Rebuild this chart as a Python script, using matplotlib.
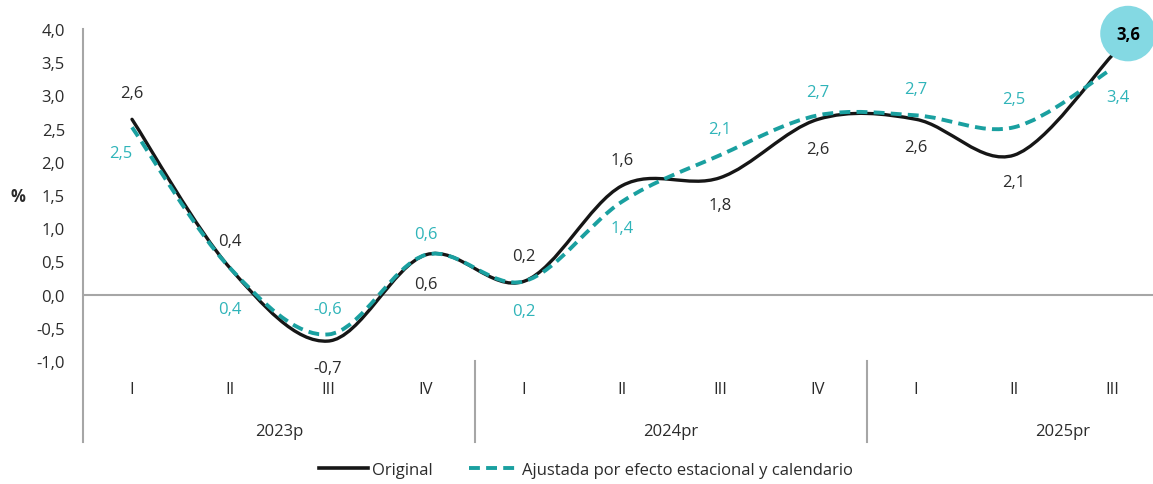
import numpy as np
import matplotlib
matplotlib.use('Agg')
from matplotlib import pyplot as plt
from matplotlib.path import Path
import matplotlib.patches as mpatches
import matplotlib.lines as mlines
from matplotlib import transforms

plt.rcParams['font.family'] = ['Open Sans', 'DejaVu Sans']

# data
quarters = ['I', 'II', 'III', 'IV', 'I', 'II', 'III', 'IV', 'I', 'II', 'III']
years = ['2023p', '2024pr', '2025pr']
original = [2.64, 0.4, -0.7, 0.6, 0.2, 1.64, 1.76, 2.64, 2.64, 2.1, 3.6]
ajustada = [2.52, 0.4, -0.6, 0.6, 0.2, 1.4, 2.1, 2.7, 2.7, 2.52, 3.4]

# label offsets (pixels) relative to each point
off_orig = [(0, 26), (0, 27), (0, -27), (0, -29), (0, 25), (0, 26),
            (0, -27), (0, -30), (0, -28), (0, -27), (16, 22)]
off_aj = [(-11, -26), (0, -41), (0, 25), (0, 21), (0, -30), (0, -26),
          (0, 26), (0, 23), (0, 26), (0, 28), (6, -28)]

BLACK = '#161616'
TEAL = '#1aa0a0'
TEAL_TXT = '#2fb4b9'
GREY = '#a6a6a6'
TXT = '#2b2b2b'
FS = 12


def smooth_path(xs, ys):
    # bezier path through the points (excel-style smoothed line)
    pts = np.column_stack([xs, ys]).astype(float)
    n = len(pts)
    verts = [pts[0]]
    codes = [Path.MOVETO]
    for i in range(n - 1):
        p0 = pts[max(i - 1, 0)]
        p1 = pts[i]
        p2 = pts[i + 1]
        p3 = pts[min(i + 2, n - 1)]
        c1 = p1 + (p2 - p0) / 6.0
        c2 = p2 - (p3 - p1) / 6.0
        verts += [c1, c2, p2]
        codes += [Path.CURVE4] * 3
    return Path(verts, codes)


W, H = 1153, 485
fig = plt.figure(figsize=(W / 100, H / 100), dpi=100)
ax = fig.add_axes([83 / W, 1 - 362 / H, (W - 83) / W, (362 - 30) / H])

x = np.arange(len(quarters))
ax.set_xlim(-0.5, -0.5 + (W - 83) / 98.0)
ax.set_ylim(-1.0, 4.0)

for s in ['top', 'right', 'bottom', 'left']:
    ax.spines[s].set_visible(False)

# zero line and left axis (extended down through the category area)
ax.axhline(0, color=GREY, lw=1.5, zorder=1)
ax.plot([0, 0], [1, -0.245], transform=ax.transAxes, color=GREY, lw=1.5,
        clip_on=False, zorder=1)

# series
ax.add_patch(mpatches.PathPatch(smooth_path(x, original), fill=False,
                                edgecolor=BLACK, lw=2.4, zorder=3,
                                capstyle='round'))
ax.add_patch(mpatches.PathPatch(smooth_path(x, ajustada), fill=False,
                                edgecolor=TEAL, lw=2.8, zorder=4,
                                linestyle=(0, (2.8, 1.6))))

# y axis
ax.set_yticks(np.arange(-1.0, 4.01, 0.5))
ax.yaxis.set_major_formatter(matplotlib.ticker.FuncFormatter(
    lambda v, p: ('%.1f' % v).replace('.', ',')))
ax.tick_params(axis='y', length=0, pad=13, labelsize=FS, labelcolor=TXT)
ax.set_xticks([])
fig.text(18 / W, 1 - 197 / H, '%', ha='center', va='center', fontsize=FS,
         fontweight='bold', color=TXT)

# category axis: quarters, years and separators
trans = transforms.blended_transform_factory(ax.transData, ax.transAxes)
for i, q in enumerate(quarters):
    ax.text(i, -0.084, q, transform=trans, ha='center', va='center',
            fontsize=FS, color=TXT)
for k, yr in enumerate(years):
    ax.text(4 * k + 1.5, -0.21, yr, transform=trans, ha='center',
            va='center', fontsize=FS, color=TXT)
for sx in [3.5, 7.5]:
    ax.plot([sx, sx], [0, -0.245], transform=trans, color=GREY, lw=1.5,
            clip_on=False)


def fmt(v):
    return ('%.1f' % v).replace('.', ',')


# data labels
for i, v in enumerate(original):
    if i == len(original) - 1:
        ax.annotate(fmt(v), (i, v), xytext=off_orig[i],
                    textcoords='offset pixels', ha='center', va='center',
                    fontsize=FS, fontweight='bold', color='black', zorder=6,
                    bbox=dict(boxstyle='circle,pad=0.95', fc='#84d9e3',
                              ec='none'), annotation_clip=False)
    else:
        ax.annotate(fmt(v), (i, v), xytext=off_orig[i],
                    textcoords='offset pixels', ha='center', va='center',
                    fontsize=FS, color=TXT, zorder=6)
for i, v in enumerate(ajustada):
    ax.annotate(fmt(v), (i, v), xytext=off_aj[i], textcoords='offset pixels',
                ha='center', va='center', fontsize=FS, color=TEAL_TXT,
                zorder=6)

# legend
h1 = mlines.Line2D([], [], color=BLACK, lw=2.6, label='Original')
h2 = mlines.Line2D([], [], color=TEAL, lw=2.8, linestyle=(0, (2.8, 1.6)),
                   label='Ajustada por efecto estacional y calendario')
fig.legend(handles=[h1, h2], loc='center', ncol=2, frameon=False,
           bbox_to_anchor=(586 / W, 1 - 471 / H), fontsize=FS,
           handlelength=2.9, handletextpad=0.25, columnspacing=2.2,
           labelcolor=TXT)

fig.savefig('out.png', dpi=100)
